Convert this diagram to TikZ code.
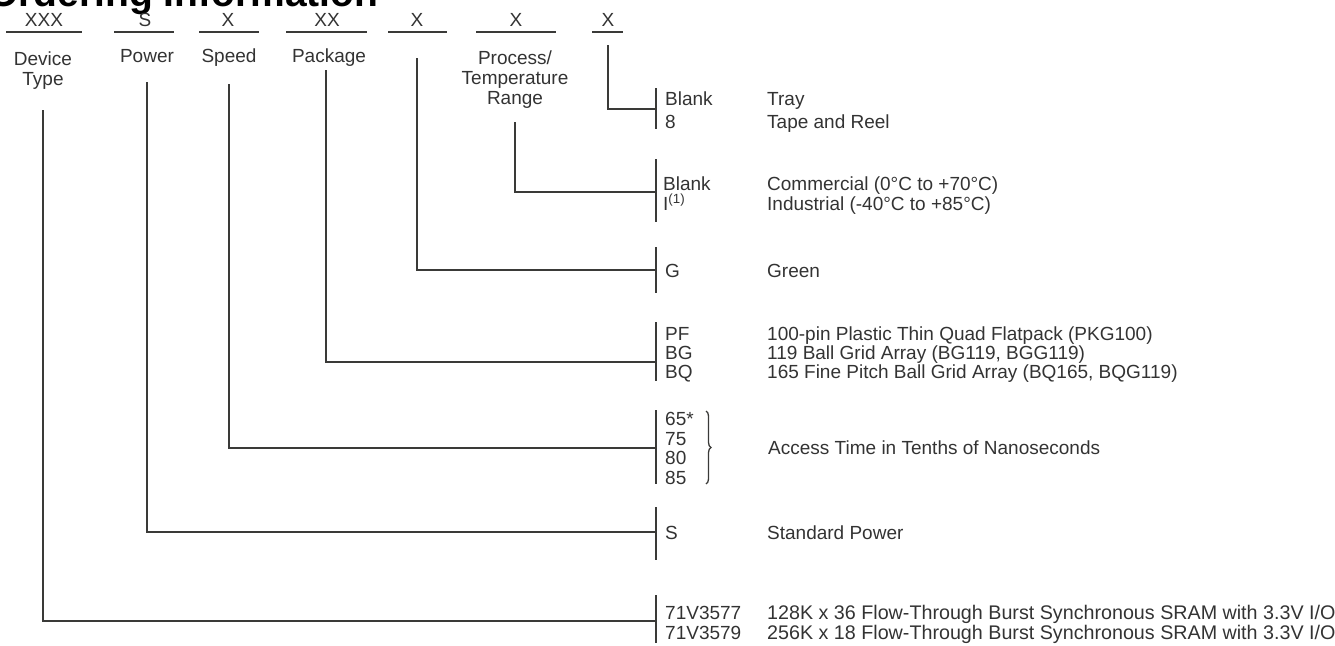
\documentclass[tikz,border=0pt]{standalone}
\usepackage{fontspec}
\setmainfont{Liberation Sans}
\usetikzlibrary{decorations.pathreplacing}
\definecolor{ink}{HTML}{3A3A38}
\definecolor{txt}{HTML}{333333}
\begin{document}
\begin{tikzpicture}[x=1pt,y=-1pt,
  ln/.style={draw=ink,line width=2.2pt},
  ul/.style={draw=ink,line width=1.8pt},
  lab/.style={inner sep=0pt,text=txt,font=\fontsize{19}{22}\selectfont,anchor=base west},
  labw/.style={inner sep=0pt,text=txt,font=\fontsize{19.7}{22}\selectfont,anchor=base west},
  head/.style={inner sep=0pt,text=txt,font=\fontsize{19}{22}\selectfont,anchor=base},
  ttl/.style={inner sep=0pt,text=black,font=\fontsize{39}{42}\selectfont\bfseries,anchor=base west}
]
\useasboundingbox (0,0) rectangle (1335,645);

% title
\node[ttl] (title) at (-12,6) {Ordering Information};

% header tokens
\node[head] (hA) at (44,27) {XXX};
\node[head] (hB) at (145,27) {S};
\node[head] (hC) at (228,27) {X};
\node[head] (hD) at (327,27) {XX};
\node[head] (hE) at (417,27) {X};
\node[head] (hF) at (516,27) {X};
\node[head] (hG) at (608,27) {X};
\draw[ul] (6,32) -- (82,32);
\draw[ul] (114,32) -- (174,32);
\draw[ul] (199,32) -- (259,32);
\draw[ul] (286,32) -- (367,32);
\draw[ul] (388,32) -- (447,32);
\draw[ul] (476,32) -- (556,32);
\draw[ul] (592,32) -- (623,32);

% field labels
\node[head] (lA1) at (43,65) {Device};
\node[head] (lA2) at (43,85) {Type};
\node[head] (lB) at (147,62) {Power};
\node[head] (lC) at (229,62) {Speed};
\node[head] (lD) at (329,62) {Package};
\node[head] (lF1) at (515,64) {Process/};
\node[head] (lF2) at (515,84) {Temperature};
\node[head] (lF3) at (515,104) {Range};

% vertical starts
\coordinate (vA) at (43,110);
\coordinate (vB) at (147,82);
\coordinate (vC) at (229,84);
\coordinate (vD) at (326,70);
\coordinate (vE) at (417,58);
\coordinate (vF) at (515,122);
\coordinate (vG) at (608,45);

% bars and junctions
\coordinate (b1t) at (656,88);  \coordinate (b1b) at (656,129); \coordinate (j1) at (656,109);
\coordinate (b2t) at (656,159); \coordinate (b2b) at (656,222); \coordinate (j2) at (656,192);
\coordinate (b3t) at (656,247); \coordinate (b3b) at (656,293); \coordinate (j3) at (656,270);
\coordinate (b4t) at (656,322); \coordinate (b4b) at (656,381); \coordinate (j4) at (656,362);
\coordinate (b5t) at (656,410); \coordinate (b5b) at (656,484); \coordinate (j5) at (656,448);
\coordinate (b6t) at (656,507); \coordinate (b6b) at (656,560); \coordinate (j6) at (656,532);
\coordinate (b7t) at (656,595); \coordinate (b7b) at (656,643); \coordinate (j7) at (656,621);

\foreach \i in {1,...,7} \draw[ln] (b\i t) -- (b\i b);

\draw[ln] (vG) |- (j1);
\draw[ln] (vF) |- (j2);
\draw[ln] (vE) |- (j3);
\draw[ln] (vD) |- (j4);
\draw[ln] (vC) |- (j5);
\draw[ln] (vB) |- (j6);
\draw[ln] (vA) |- (j7);

% group 1
\node[lab] (c1a) at (665,105) {Blank};
\node[lab] (c1b) at (665,128) {8};
\node[lab] (d1a) at (767,105) {Tray};
\node[lab] (d1b) at (767,128) {Tape and Reel};
% group 2
\node[lab] (c2a) at (663,190) {Blank};
\node[lab] (c2b) at (663,210) {I\textsuperscript{(1)}};
\node[lab] (d2a) at (767,190) {Commercial (0°C to +70°C)};
\node[lab] (d2b) at (767,210) {Industrial (-40°C to +85°C)};
% group 3
\node[lab] (c3a) at (665,277) {G};
\node[lab] (d3a) at (767,277) {Green};
% group 4
\node[lab] (c4a) at (665,340) {PF};
\node[lab] (c4b) at (665,359) {BG};
\node[lab] (c4c) at (665,378) {BQ};
\node[lab] (d4a) at (767,340) {100-pin Plastic Thin Quad Flatpack (PKG100)};
\node[lab] (d4b) at (767,359) {119 Ball Grid Array (BG119, BGG119)};
\node[lab] (d4c) at (767,378) {165 Fine Pitch Ball Grid Array (BQ165, BQG119)};
% group 5
\node[lab] (c5a) at (665,425) {65*};
\node[lab] (c5b) at (665,445) {75};
\node[lab] (c5c) at (665,464) {80};
\node[lab] (c5d) at (665,484) {85};
\coordinate (br1) at (706,411);
\coordinate (br2) at (706,484);
\draw[draw=ink,line width=1.3pt,decorate,decoration={brace,amplitude=5pt}] (br1) -- (br2);
\node[lab] (d5a) at (768,454) {Access Time in Tenths of Nanoseconds};
% group 6
\node[lab] (c6a) at (665,539) {S};
\node[lab] (d6a) at (767,539) {Standard Power};
% group 7
\node[lab] (c7a) at (665,619) {71V3577};
\node[lab] (c7b) at (665,639) {71V3579};
\node[labw] (d7a) at (767,619) {128K x 36 Flow-Through Burst Synchronous SRAM with 3.3V I/O};
\node[labw] (d7b) at (767,639) {256K x 18 Flow-Through Burst Synchronous SRAM with 3.3V I/O};
\end{tikzpicture}
\end{document}
